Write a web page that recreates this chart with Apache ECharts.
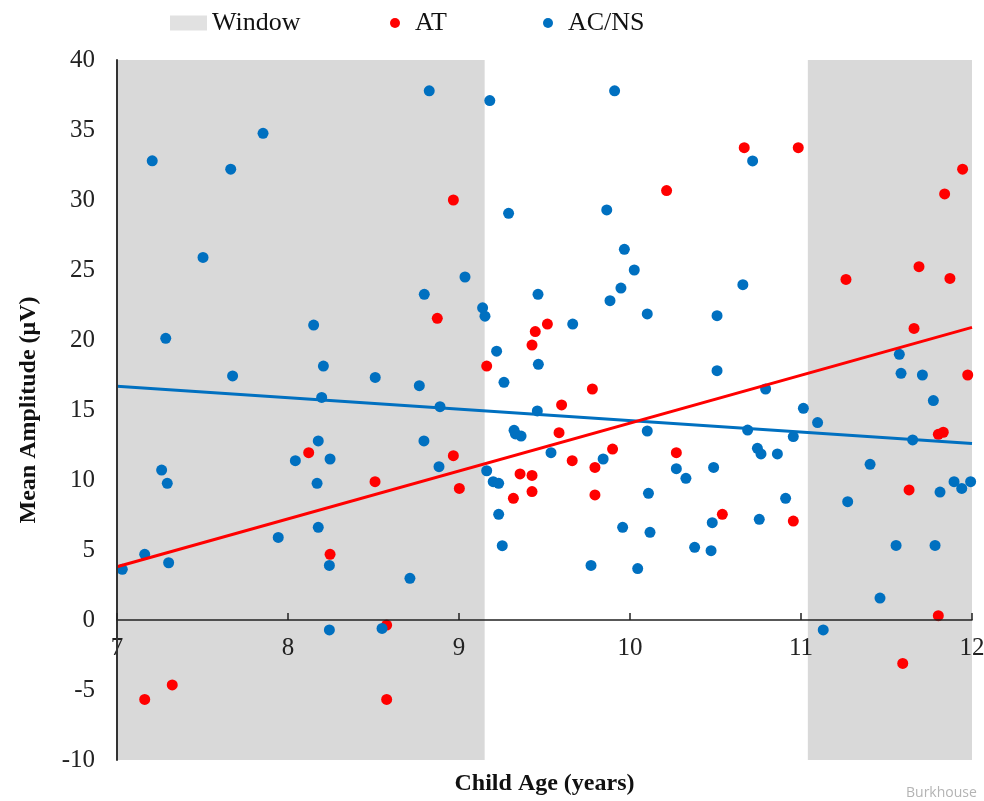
<!DOCTYPE html>
<html>
<head>
<meta charset="utf-8">
<script src="https://cdn.jsdelivr.net/npm/echarts@6/dist/echarts.min.js"></script>
<style>html,body{margin:0;padding:0;background:#fff}#c{width:984px;height:801px}</style>
</head>
<body>
<div id="c"></div>
<script>
// ---- data ----
const atPoints = [
  [8.967,30.0],[8.873,21.55],[9.162,18.14],[8.121,11.95],[8.967,11.74],[8.509,9.88],
  [9.002,9.4],[8.246,4.69],[8.577,-0.36],[7.162,-5.67],[7.323,-4.64],[8.577,-5.67],
  [10.668,33.74],[10.984,33.74],[10.214,30.67],[9.517,21.14],[9.446,20.6],[9.427,19.64],
  [9.78,16.5],[9.6,15.36],[9.585,13.38],[9.898,12.21],[9.662,11.38],[10.271,11.95],
  [9.795,10.9],[9.357,10.43],[9.427,10.33],[9.427,9.17],[9.318,8.69],[9.795,8.93],
  [10.54,7.55],[10.955,7.07],[11.945,32.2],[11.84,30.43],[11.69,25.24],[11.263,24.33],
  [11.871,24.4],[11.661,20.83],[11.975,17.5],[11.803,13.26],[11.832,13.41],[11.632,9.29],
  [11.803,0.31],[11.595,-3.1]
];
const acnsPoints = [
  [7.206,32.8],[7.503,25.9],[7.665,32.2],[7.854,34.76],[8.826,37.8],[9.18,37.1],
  [8.797,23.26],[9.035,24.5],[9.138,22.3],[9.152,21.7],[8.15,21.07],[7.285,20.12],
  [8.207,18.14],[7.676,17.43],[8.51,17.33],[8.768,16.74],[8.197,15.9],[8.889,15.24],
  [8.177,12.79],[8.795,12.79],[8.043,11.38],[8.246,11.5],[8.883,10.95],[9.162,10.66],
  [7.261,10.71],[7.294,9.76],[8.17,9.76],[8.177,6.62],[7.943,5.9],[7.162,4.69],
  [7.031,3.62],[7.302,4.09],[8.242,3.9],[8.713,2.98],[8.242,-0.71],[8.55,-0.6],
  [9.91,37.8],[10.717,32.79],[9.29,29.05],[9.864,29.29],[9.967,26.48],[10.025,25.0],
  [10.66,23.95],[9.462,23.26],[9.947,23.71],[9.883,22.81],[10.101,21.86],[10.509,21.74],
  [9.665,21.14],[9.22,19.2],[9.464,18.26],[9.263,16.98],[10.509,17.81],[10.793,16.5],
  [9.458,14.93],[11.014,15.12],[11.097,14.1],[9.322,13.55],[9.33,13.29],[9.363,13.14],
  [10.101,13.5],[10.688,13.57],[10.955,13.1],[9.538,11.95],[9.843,11.5],[10.745,12.26],
  [10.766,11.86],[10.862,11.86],[10.271,10.81],[10.489,10.9],[10.327,10.12],[9.2,9.88],
  [9.232,9.76],[10.108,9.05],[10.91,8.69],[9.232,7.55],[10.481,6.95],[10.756,7.19],
  [9.957,6.62],[10.117,6.26],[9.253,5.31],[10.378,5.19],[10.474,4.95],[9.772,3.9],
  [10.045,3.67],[11.13,-0.71],[11.575,18.98],[11.585,17.62],[11.71,17.5],[11.774,15.67],
  [11.653,12.86],[11.404,11.12],[11.813,9.14],[11.895,9.88],[11.94,9.4],[11.992,9.88],
  [11.273,8.45],[11.556,5.33],[11.784,5.33],[11.462,1.57]
];
const atTrend = [[7,3.8],[12,20.9]];
const acnsTrend = [[7,16.7],[12,12.6]];
const windowRanges = [[7,9.15],[11.04,12]];
const seriesNames = ['Window','AT','AC/NS'];
const xTitle = 'Child Age (years)';
const yTitle = 'Mean Amplitude (\u03bcV)';

const RED = '#ff0000', BLUE = '#0070c0', GRAY = '#d9d9d9';
const SERIF = '"Liberation Serif","Times New Roman",serif';

const chart = echarts.init(document.getElementById('c'), null, {renderer:'canvas'});
const legendText = {fontFamily: SERIF, fontSize: 26, color: '#111'};
const xMin = 7, xMax = 12, yMin = -10, yMax = 40;
chart.setOption({
  animation: false,
  backgroundColor: '#fff',
  grid: {left: 117, right: 12, top: 60, bottom: 41, containLabel: false, outerBoundsMode: 'none'},
  legend: [
    {data: [{name: seriesNames[0], icon: 'rect'}], left: 165, top: 5, itemWidth: 37, itemHeight: 15, textStyle: legendText, selectedMode: false},
    {data: [{name: seriesNames[1], icon: 'circle'}], left: 385, top: 5, itemWidth: 30, itemHeight: 10, textStyle: legendText, selectedMode: false},
    {data: [{name: seriesNames[2], icon: 'circle'}], left: 538, top: 5, itemWidth: 30, itemHeight: 10, textStyle: legendText, selectedMode: false}
  ],
  xAxis: [
    {
      type: 'value', min: xMin, max: xMax, interval: 1, z: 10,
      axisLine: {onZero: true, lineStyle: {color: '#222', width: 1.5}},
      axisTick: {show: true, inside: true, length: 7, lineStyle: {color: '#222', width: 1.5}},
      axisLabel: {show: false},
      splitLine: {show: false}
    },
    {
      type: 'value', min: xMin, max: xMax, interval: 1, position: 'bottom', offset: -140,
      name: xTitle, nameLocation: 'middle', nameGap: 152,
      nameTextStyle: {fontFamily: SERIF, fontSize: 24, fontWeight: 'bold', color: '#111'},
      axisLine: {show: false, onZero: false},
      axisTick: {show: false},
      axisLabel: {fontFamily: SERIF, fontSize: 25, color: '#222', margin: 16},
      splitLine: {show: false}
    }
  ],
  yAxis: {
    type: 'value', min: yMin, max: yMax, interval: 5, z: 10,
    name: yTitle, nameLocation: 'middle', nameGap: 76,
    nameTextStyle: {fontFamily: SERIF, fontSize: 24, fontWeight: 'bold', color: '#111'},
    axisLine: {show: true, onZero: false, lineStyle: {color: '#333', width: 2}},
    axisTick: {show: false},
    axisLabel: {fontFamily: SERIF, fontSize: 25, color: '#222', margin: 22},
    splitLine: {show: false}
  },
  series: [
    {
      name: seriesNames[0], type: 'scatter', data: [], z: -1, zlevel: 0,
      itemStyle: {color: GRAY},
      markArea: {
        silent: true, z: -1,
        itemStyle: {color: GRAY},
        data: windowRanges.map(r => [{xAxis: r[0]}, {xAxis: r[1]}])
      }
    },
    {
      name: seriesNames[1], type: 'scatter', data: atPoints, symbolSize: 11, z: 3,
      itemStyle: {color: RED, opacity: 1}
    },
    {
      name: seriesNames[2], type: 'scatter', data: acnsPoints, symbolSize: 11, z: 4,
      itemStyle: {color: BLUE, opacity: 1}
    },
    {
      type: 'line', data: acnsTrend, showSymbol: false, symbol: 'none', z: 5,
      lineStyle: {color: BLUE, width: 3}
    },
    {
      type: 'line', data: atTrend, showSymbol: false, symbol: 'none', z: 6,
      lineStyle: {color: RED, width: 3}
    }
  ],
  graphic: [
    {type: 'text', left: 906, top: 786, style: {text: 'Burkhouse', fontFamily: '"Open Sans",sans-serif', fontSize: 14, fill: '#b4b4b4'}}
  ]
});
</script>
</body>
</html>
